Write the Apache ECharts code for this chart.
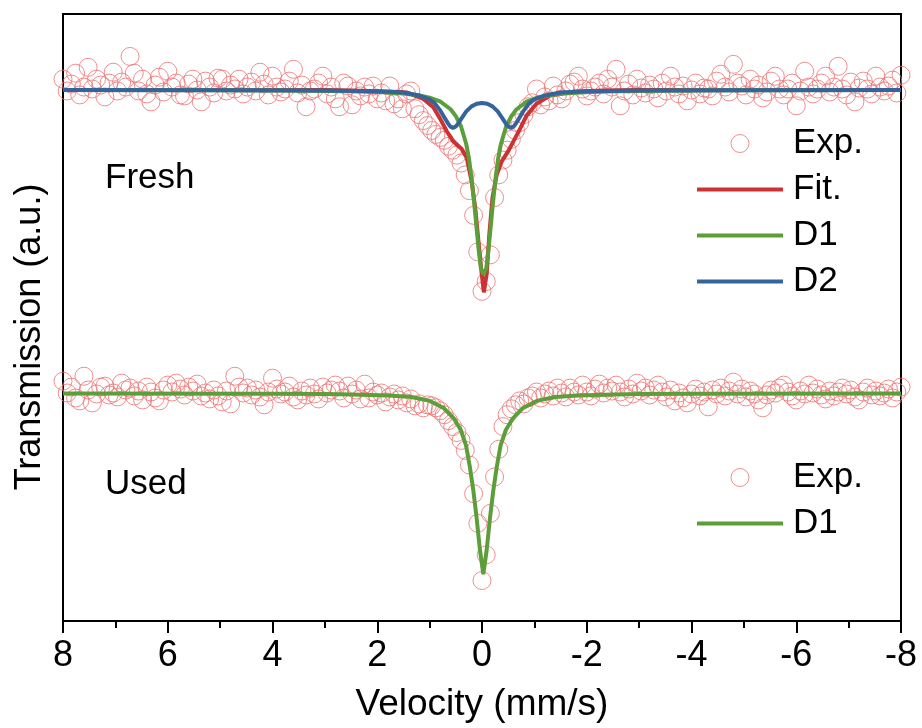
<!DOCTYPE html>
<html>
<head>
<meta charset="utf-8">
<script src="https://cdn.jsdelivr.net/npm/echarts@6.0.0/dist/echarts.min.js"></script>
<style>
  html, body { margin: 0; padding: 0; background: #fff; }
  #chart { width: 922px; height: 728px; }
</style>
</head>
<body>
<div id="chart"></div>
<script>
// Mössbauer spectra of the fresh and used samples, stacked on one transmission axis.
// Channel velocities run from +8 to -8 mm/s in fixed steps.
const velocityStart = 8;
const velocityStep = -0.08;

// Measured counts (a.u.), one value per channel.
const freshExp = [
  549,537,544,555,533,541,561,539,549,543,531,545,556,537,546,541,572,555,537,549,
  534,526,543,551,536,557,541,545,533,532,544,549,538,526,547,541,535,550,549,537,
  543,539,549,534,541,546,537,556,544,533,552,541,536,539,547,559,535,543,521,537,
  539,545,552,534,541,529,521,545,542,523,537,532,541,534,542,529,535,527,542,524,
  529,519,534,537,519,513,507,502,497,493,490,487,481,477,472,464,452,436,411,374,
  334,344,371,429,452,467,477,488,497,505,513,521,525,539,523,531,527,542,533,529,
  537,544,546,552,539,532,537,541,545,534,549,541,559,522,537,544,533,549,540,535,
  543,539,530,545,537,552,541,534,542,527,538,545,534,540,539,532,547,554,541,536,
  564,545,542,533,549,539,543,530,536,547,552,539,533,539,545,522,537,557,541,534,
  539,545,552,536,541,562,539,533,546,526,540,547,539,534,552,541,537,542,548,535,553
];

const usedExp = [
  243,231,237,226,223,248,234,221,230,237,238,229,231,227,241,234,236,228,233,224,
  237,232,226,223,234,239,232,241,235,229,237,233,240,228,231,225,234,228,222,233,
  220,248,237,231,236,229,234,227,219,232,246,235,230,232,238,227,224,233,229,236,
  230,225,237,231,234,239,233,226,238,230,234,225,240,226,232,229,231,222,227,230,
  224,228,221,225,218,220,216,219,218,216,213,209,203,197,191,183,173,158,129,99,
  41,67,109,146,174,197,209,215,219,223,220,226,228,232,226,230,233,228,236,231,
  227,236,232,229,239,232,228,235,240,231,236,233,239,232,227,235,230,241,233,236,
  229,234,239,232,227,234,223,231,226,221,230,235,228,232,217,234,230,236,228,233,
  242,230,235,227,233,230,224,216,229,234,231,236,239,232,228,224,233,230,239,231,
  235,229,225,233,228,232,236,230,234,227,224,232,236,229,233,228,231,235,226,232,237
];

// Fitted curves: [velocity (mm/s), transmission (a.u.)]
const freshFit = [
  [8,538],[3,538],[2.5,537.6],[2,536.8],[1.7,536.2],[1.44,535.5],[1.12,529],[0.93,520.5],
  [0.8,509],[0.67,496],[0.55,486],[0.46,481.5],[0.39,478.5],[0.29,469],[0.2,446],[0.13,419],
  [0.07,386],[0.006,352],[-0.035,333],[-0.09,352],[-0.14,392],[-0.2,429],[-0.28,452],
  [-0.38,466],[-0.5,476],[-0.6,486],[-0.73,499],[-0.85,512],[-1.04,524],[-1.3,532.3],
  [-1.74,536.3],[-2.3,537.5],[-3,538],[-8,538]
];

const freshD1 = [
  [8,538],[5,537.7],[4,537.5],[3,537.1],[2.5,536.7],[2,536],[1.5,534.4],[1.2,532.4],[1,530.2],
  [0.8,526.4],[0.6,518.5],[0.5,511.5],[0.4,501],[0.3,483],[0.25,469],[0.2,449],[0.15,424],
  [0.1,396],[0.06,374],[0.02,357],[-0.03,351],[-0.08,357],[-0.12,374],[-0.16,396],[-0.21,424],
  [-0.26,449],[-0.31,469],[-0.36,483],[-0.46,501],[-0.56,511.5],[-0.66,518.5],[-0.86,526.4],
  [-1.06,530.2],[-1.26,532.4],[-1.56,534.4],[-2.06,536],[-2.56,536.7],[-3.06,537.1],
  [-4.06,537.5],[-5,537.7],[-8,538]
];

const freshD2 = [
  [8,538],[5,537.8],[3,537.5],[2,536.8],[1.5,535.5],[1.2,532.5],[1,528.5],[0.9,524.5],[0.8,517.4],
  [0.7,508.7],[0.65,504.2],[0.6,500.8],[0.555,499.6],[0.5,501],[0.45,504.3],[0.4,508.5],
  [0.3,516.3],[0.2,521.4],[0.1,524],[0,524.9],[-0.1,524],[-0.2,521.4],[-0.3,516.3],
  [-0.4,508.5],[-0.45,504.3],[-0.5,501],[-0.555,499.6],[-0.6,500.8],[-0.65,504.2],
  [-0.7,508.7],[-0.8,517.4],[-0.9,524.5],[-1,528.5],[-1.2,532.5],[-1.5,535.5],[-2,536.8],
  [-3,537.5],[-5,537.8],[-8,538]
];

const usedD1 = [
  [8,230.5],[4,230.2],[3,229.9],[2.5,229.5],[1.775,228.5],[1.345,227],[0.995,223],[0.725,215.5],
  [0.535,205],[0.405,193.5],[0.305,178],[0.23,155.5],[0.165,132],[0.102,104],[0.04,72.3],
  [-0.025,47.5],[-0.09,72.3],[-0.152,104],[-0.215,132],[-0.28,155.5],[-0.355,178],
  [-0.455,193.5],[-0.585,205],[-0.775,215.5],[-1.045,223],[-1.395,227],[-1.825,228.5],
  [-2.525,229.5],[-3.025,229.9],[-4,230.2],[-8,230.5]
];

const velocity = freshExp.map((_, i) => +(velocityStart + velocityStep * i).toFixed(2));

const FONT = '"Liberation Sans", Arial, Helvetica, sans-serif';
const COLORS = { exp: '#ee7272', fit: '#cc3232', d1: '#5c9e3a', d2: '#33649c' };
const expItemStyle = { color: 'transparent', borderColor: COLORS.exp, borderWidth: 1 };
// Plain stroke-shaped legend key for the fitted curves (no marker).
const LINE_KEY = 'path://M0,0H86V4H0Z';

function lineSeries(name, data, color, z) {
  return {
    name, type: 'line', data, z,
    symbol: 'none', showSymbol: false, silent: true,
    lineStyle: { color, width: 4 }, itemStyle: { color },
    emphasis: { disabled: true }
  };
}

function legendBlock(top, names) {
  return {
    orient: 'vertical', left: 697, top, padding: 0,
    itemWidth: 86, itemHeight: 18, itemGap: 11, selectedMode: false,
    textStyle: { fontSize: 35, color: '#000', fontFamily: FONT, lineHeight: 35, padding: [0, 0, 0, 5] },
    data: names.map(n => n === 'Exp.'
      ? { name: n, icon: 'circle', itemStyle: expItemStyle }
      : { name: n, icon: LINE_KEY, itemStyle: { borderWidth: 0 } })
  };
}

const chart = echarts.init(document.getElementById('chart'), null, { renderer: 'canvas' });

chart.setOption({
  animation: false,
  backgroundColor: '#fff',
  textStyle: { fontFamily: FONT },
  grid: {
    left: 63, right: 21, top: 14, bottom: 99,
    show: true, borderColor: '#000', borderWidth: 2, backgroundColor: 'transparent'
  },
  xAxis: {
    type: 'value', min: -8, max: 8, interval: 2, inverse: true,
    name: 'Velocity (mm/s)', nameLocation: 'middle', nameGap: 65,
    nameTextStyle: { fontSize: 37, color: '#000', fontFamily: FONT },
    axisLine: { show: true, onZero: false, lineStyle: { color: '#000', width: 2 } },
    axisTick: { show: true, inside: false, length: 12, lineStyle: { color: '#000', width: 2 } },
    minorTick: { show: true, splitNumber: 2, length: 7, lineStyle: { color: '#000', width: 2 } },
    axisLabel: { fontSize: 36, color: '#000', margin: 17, fontFamily: FONT },
    splitLine: { show: false }, minorSplitLine: { show: false }
  },
  yAxis: {
    type: 'value', min: 0, max: 615,
    axisLine: { show: true, onZero: false, lineStyle: { color: '#000', width: 2 } },
    axisTick: { show: false }, axisLabel: { show: false }, splitLine: { show: false }
  },
  legend: [
    legendBlock(126, ['Exp.', 'Fit.', 'D1', 'D2']),
    legendBlock(460, ['Exp.', 'D1'])
  ],
  graphic: [
    {
      type: 'text', x: 30, y: 337, rotation: Math.PI / 2, silent: true,
      style: { text: 'Transmission (a.u.)', font: '36px ' + FONT, fill: '#000',
               align: 'center', verticalAlign: 'middle', textAlign: 'center', textVerticalAlign: 'middle' }
    },
    {
      type: 'text', x: 105, y: 178, silent: true,
      style: { text: 'Fresh', font: '35px ' + FONT, fill: '#000',
               align: 'left', verticalAlign: 'middle', textAlign: 'left', textVerticalAlign: 'middle' }
    },
    {
      type: 'text', x: 105, y: 484, silent: true,
      style: { text: 'Used', font: '35px ' + FONT, fill: '#000',
               align: 'left', verticalAlign: 'middle', textAlign: 'left', textVerticalAlign: 'middle' }
    }
  ],
  series: [
    {
      name: 'Exp.', type: 'scatter', symbol: 'circle', symbolSize: 18, z: 1, silent: true,
      itemStyle: expItemStyle, emphasis: { disabled: true },
      data: freshExp.map((u, i) => [velocity[i], u])
    },
    {
      name: 'Exp.', type: 'scatter', symbol: 'circle', symbolSize: 18, z: 1, silent: true,
      itemStyle: expItemStyle, emphasis: { disabled: true },
      data: usedExp.map((u, i) => [velocity[i], u])
    },
    lineSeries('Fit.', freshFit, COLORS.fit, 3),
    lineSeries('D1', freshD1, COLORS.d1, 4),
    lineSeries('D2', freshD2, COLORS.d2, 5),
    lineSeries('D1', usedD1, COLORS.d1, 4)
  ]
});
</script>
</body>
</html>
